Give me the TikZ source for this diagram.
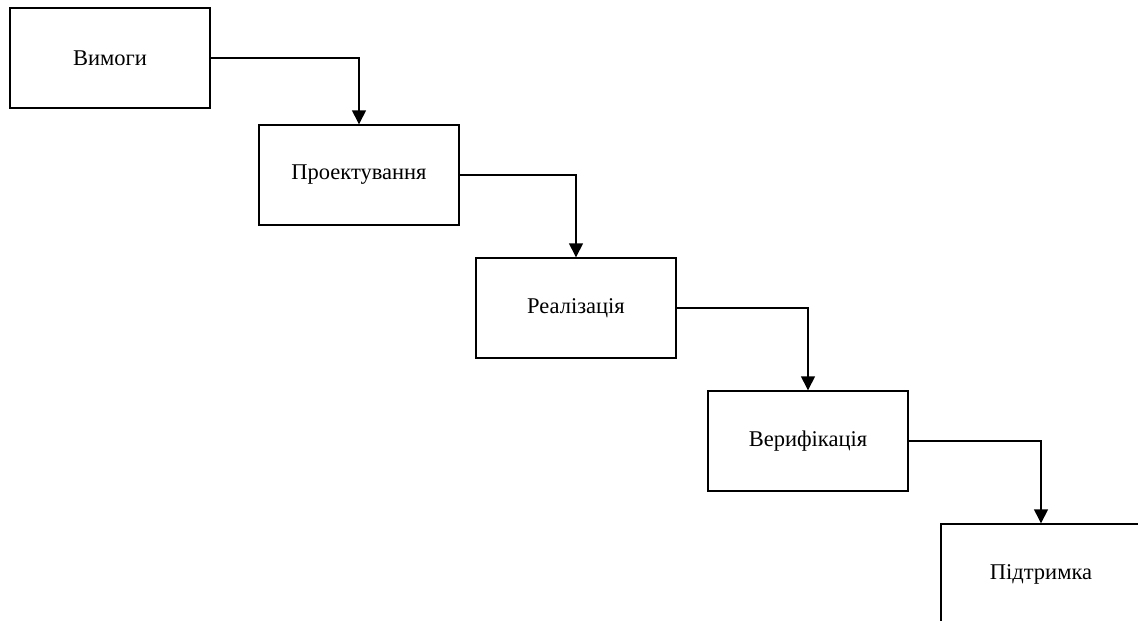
\documentclass[tikz,border=0pt]{standalone}
\usepackage{fontspec}
\setmainfont{Liberation Serif}
\usetikzlibrary{arrows.meta}

\begin{document}
\begin{tikzpicture}[x=1pt,y=-1pt,
    stage/.style={draw, line width=1.4pt, minimum width=200pt, minimum height=100pt,
                  inner sep=0pt, font=\fontsize{22.5}{26}\selectfont},
    flow/.style={line width=1.4pt, -{Triangle[width=14pt,length=14pt]}}]
        % page size and clipping (the last box runs off the page)
        \useasboundingbox (0,0) rectangle (1138,621);
        \clip (0,0) rectangle (1138,621);

        % the stages
        \node[stage] (req) at (110,58) {Вимоги};
        \node[stage] (des) at (359,175) {Проектування};
        \node[stage] (impl) at (576,308) {Реалізація};
        \node[stage] (ver) at (808,441) {Верифікація};
        \node[stage] (sup) at (1041,574) {Підтримка};

        % draw the arrows
        \draw[flow] (req.east) -| (des.north);
        \draw[flow] (des.east) -| (impl.north);
        \draw[flow] (impl.east) -| (ver.north);
        \draw[flow] (ver.east) -| (sup.north);

    \end{tikzpicture}
\end{document}
